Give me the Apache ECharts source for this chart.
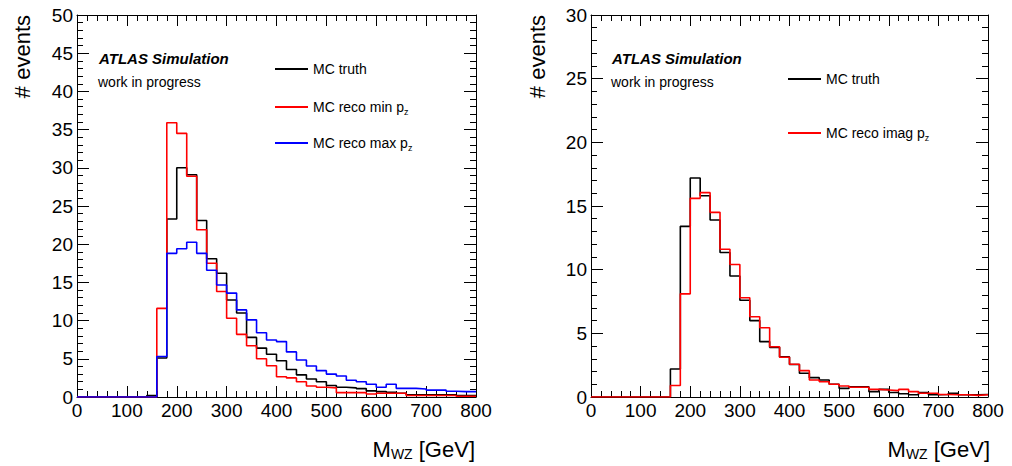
<!DOCTYPE html>
<html>
<head>
<meta charset="utf-8">
<script src="https://cdn.jsdelivr.net/npm/echarts@6/dist/echarts.min.js"></script>
<style>
  html, body { margin: 0; padding: 0; background: #fff; }
  #chart { width: 1012px; height: 466px; background: #fff; }
</style>
</head>
<body>
<div id="chart"></div>
<script>
// lower edge of each 20 GeV bin, the last bin ends at 800
const binLow = [0, 20, 40, 60, 80, 100, 120, 140, 160, 180, 200, 220, 240, 260, 280, 300, 320, 340, 360, 380,
                400, 420, 440, 460, 480, 500, 520, 540, 560, 580, 600, 620, 640, 660, 680, 700, 720, 740, 760, 780];
const xEnd = 800;

// left panel
const leftTruth = [0, 0, 0, 0, 0, 0, 0, 0.2, 5.1, 23.3, 30.0, 29.1, 23.1, 18.1, 16.2, 12.7, 11.0, 7.8, 6.4, 5.6,
                   4.75, 3.6, 2.9, 2.36, 2.0, 1.5, 1.27, 1.2, 1.1, 0.8, 0.7, 0.6, 0.5, 0.3, 0.3, 0.3, 0.3, 0.3, 0.2, 0.2];
const leftRecoMin = [0, 0, 0, 0, 0, 0, 0, 0, 11.6, 35.9, 34.5, 28.9, 21.9, 17.5, 13.8, 10.3, 8.2, 6.7, 5.0, 4.1,
                     2.66, 2.5, 2.0, 1.44, 1.27, 1.2, 0.57, 0.57, 0.57, 0.4, 0.5, 0.5, 0.5, 0.2, 0.2, 0.2, 0.2, 0.2, 0.1, 0.1];
const leftRecoMax = [0, 0, 0, 0, 0, 0, 0, 0, 5.3, 18.8, 19.4, 20.25, 18.8, 16.6, 14.66, 13.6, 11.4, 10.1, 8.4, 7.46,
                     7.25, 5.9, 4.84, 4.06, 3.45, 3.0, 2.75, 2.2, 2.0, 1.66, 1.27, 1.66, 1.13, 1.13, 1.05, 0.9, 0.9, 0.75, 0.7, 0.7];

// right panel
const rightTruth = [0, 0, 0, 0, 0, 0, 0, 0, 2.2, 13.4, 17.2, 15.8, 13.9, 11.35, 9.5, 7.6, 6.0, 4.35, 3.9, 3.15,
                    2.55, 1.86, 1.52, 1.34, 1.0, 0.68, 0.8, 0.8, 0.42, 0.6, 0.35, 0.26, 0.18, 0.35, 0.18, 0.2, 0.3, 0.18, 0.18, 0.2];
const rightRecoImag = [0, 0, 0, 0, 0, 0, 0, 0, 0.9, 8.1, 15.6, 16.05, 14.5, 11.6, 10.4, 7.8, 6.3, 5.44, 3.95, 3.12,
                       2.57, 2.07, 1.34, 1.2, 1.0, 0.86, 0.76, 0.76, 0.6, 0.55, 0.5, 0.6, 0.42, 0.3, 0.3, 0.2, 0.18, 0.18, 0.13, 0.18];

const yTopLeft = 50;
const yTopRight = 30;

const FONT = 'Liberation Sans, Arial, sans-serif';

// histogram as a step line: [lowEdge, value] ... plus the closing point at xEnd
const steps = vals => {
    const pts = binLow.map((x, i) => [x, vals[i]]);
    pts.push([xEnd, vals[vals.length - 1]]);
    return pts;
};

const frame = major => ({
    axisLine: { show: true, onZero: false, lineStyle: { color: '#000', width: 1 } },
    axisTick: { show: true, inside: true, length: major, lineStyle: { color: '#000', width: 1 } },
    minorTick: { show: true, splitNumber: 5, length: 6, lineStyle: { color: '#000', width: 1 } },
    splitLine: { show: false }
});

const label = show => ({ show: show, margin: 4, color: '#000', fontSize: 19, fontFamily: FONT });

const xAx = (grid, pos, labels) => Object.assign({
    type: 'value', gridIndex: grid, position: pos, min: 0, max: xEnd, interval: 100,
    axisLabel: label(labels)
}, frame(11));

const yAx = (grid, pos, max, labels) => Object.assign({
    type: 'value', gridIndex: grid, position: pos, min: 0, max: max, interval: 5,
    axisLabel: label(labels)
}, frame(12));

const hist = (name, vals, color, xi, yi) => ({
    name: name, type: 'line', step: 'end', xAxisIndex: xi, yAxisIndex: yi,
    data: steps(vals), symbol: 'none', color: color,
    lineStyle: { color: color, width: 1.6 }
});

const legendText = {
    'MC truth': '{a|MC truth}',
    'MC reco min pz': '{a|MC reco min p}{s|z}',
    'MC reco max pz': '{a|MC reco max p}{s|z}',
    'MC reco imag pz': '{a|MC reco imag p}{s|z}'
};

const leg = (name, left, top) => ({
    data: [name], left: left, top: top, orient: 'vertical', icon: 'rect',
    itemWidth: 33, itemHeight: 2, itemGap: 0, padding: 0, selectedMode: false,
    formatter: n => legendText[n],
    textStyle: {
        padding: [0, 0, 0, 0],
        rich: {
            a: { fontSize: 14, fontFamily: FONT, color: '#000', lineHeight: 18 },
            s: { fontSize: 9, fontFamily: FONT, color: '#000', lineHeight: 18, padding: [9, 0, 0, 0] }
        }
    }
});

const text = (x, y, str, font) => ({
    type: 'text', x: x, y: y,
    style: { text: str, fill: '#000', font: font, verticalAlign: 'middle' }
});

const yTitle = x => ({
    type: 'text', x: x, y: 15, rotation: Math.PI / 2,
    style: { text: '# events', fill: '#000', font: '22px ' + FONT, align: 'right', verticalAlign: 'middle' }
});

const xTitle = x => ({
    type: 'text', x: x, y: 462,
    style: {
        text: '{m|M}{s|WZ}{m| [GeV]}', align: 'right', verticalAlign: 'bottom',
        rich: {
            m: { fontSize: 22, fontFamily: FONT, color: '#000', lineHeight: 26 },
            s: { fontSize: 14, fontFamily: FONT, color: '#000', lineHeight: 26, padding: [10, 0, 0, 0] }
        }
    }
});

// svg renderer: the canvas one loses the axis ticks on this page
const chart = echarts.init(document.getElementById('chart'), null, { renderer: 'svg' });
chart.setOption({
    animation: false,
    grid: [
        { left: 77, top: 15, width: 399, height: 382 },
        { left: 591, top: 15, width: 397, height: 382 }
    ],
    xAxis: [xAx(0, 'bottom', true), xAx(0, 'top', false), xAx(1, 'bottom', true), xAx(1, 'top', false)],
    yAxis: [yAx(0, 'left', yTopLeft, true), yAx(0, 'right', yTopLeft, false),
            yAx(1, 'left', yTopRight, true), yAx(1, 'right', yTopRight, false)],
    legend: [
        leg('MC truth', 275, 62),
        leg('MC reco min pz', 275, 98),
        leg('MC reco max pz', 275, 134),
        leg('MC truth', 788, 72),
        leg('MC reco imag pz', 788, 124)
    ],
    series: [
        hist('MC truth', leftTruth, '#000000', 0, 0),
        hist('MC reco min pz', leftRecoMin, '#ff0000', 0, 0),
        hist('MC reco max pz', leftRecoMax, '#0000ff', 0, 0),
        hist('MC truth', rightTruth, '#000000', 2, 2),
        hist('MC reco imag pz', rightRecoImag, '#ff0000', 2, 2)
    ],
    graphic: [
        text(99, 58, 'ATLAS Simulation', 'italic bold 15px ' + FONT),
        text(98, 82, 'work in progress', '14px ' + FONT),
        text(612, 58, 'ATLAS Simulation', 'italic bold 15px ' + FONT),
        text(611, 82, 'work in progress', '14px ' + FONT),
        yTitle(22),
        yTitle(537),
        xTitle(475),
        xTitle(990)
    ]
});
</script>
</body>
</html>
